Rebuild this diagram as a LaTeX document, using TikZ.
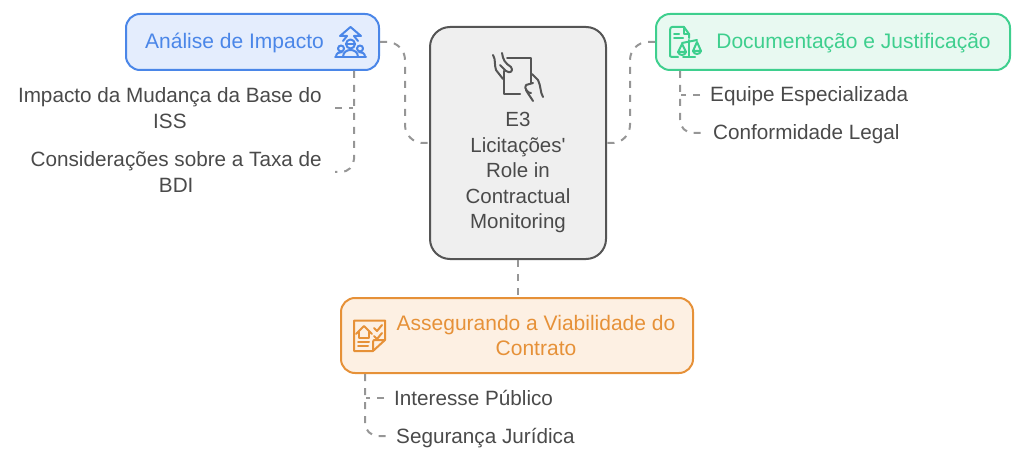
\documentclass[tikz,border=0pt]{standalone}
\usepackage{fontspec}
\usepackage{xcolor}
\newfontfamily\labelfont{Liberation Sans}
\definecolor{impactblue}{RGB}{74,134,232}
\definecolor{impactfill}{RGB}{228,237,253}
\definecolor{docgreen}{RGB}{62,207,142}
\definecolor{docfill}{RGB}{232,249,241}
\definecolor{viaorange}{RGB}{230,145,56}
\definecolor{viafill}{RGB}{253,240,227}
\definecolor{rolegray}{RGB}{85,85,85}
\definecolor{rolefill}{RGB}{239,239,239}
\definecolor{linkgray}{RGB}{150,150,150}
\definecolor{textgray}{RGB}{74,74,74}
\tikzset{
  box/.style={draw, line width=2pt, rounded corners=14pt, inner sep=0pt},
  boxtext/.style={inner sep=0pt, align=center, font=\labelfont\fontsize{21}{25.5}\selectfont},
  leaf/.style={inner ysep=0pt, inner xsep=10pt, align=center, text=textgray, font=\labelfont\fontsize{20.7}{25.5}\selectfont},
  oneline/.style={text height=19pt, text depth=5pt},
  link/.style={draw=linkgray, line width=2pt, dash pattern=on 7pt off 7pt, rounded corners=18pt},
  leaflink/.style={link, rounded corners=13pt},
  icon/.style={line width=2pt, line cap=round, line join=round}
}
\begin{document}
\begin{tikzpicture}[x=1pt,y=-1pt]
\useasboundingbox (0,0) rectangle (1024,462);

% Boxes
\node[box, draw=rolegray, fill=rolefill, minimum width=176pt, minimum height=232pt, rounded corners=20pt] (rolebox) at (518,143) {};
\node[box, draw=impactblue, fill=impactfill, minimum width=253pt, minimum height=56pt] (impactbox) at (252.5,42) {};
\node[box, draw=docgreen, fill=docfill, minimum width=354pt, minimum height=56pt] (docbox) at (833,42) {};
\node[box, draw=viaorange, fill=viafill, minimum width=352pt, minimum height=75pt] (viabox) at (517,335.5) {};

% Box texts
\node[boxtext, text=textgray, font=\labelfont\fontsize{20.5}{25.5}\selectfont] (roletext) at (518,172.5) {E3\\Licitações'\\Role in\\Contractual\\Monitoring};
\node[boxtext, oneline, text=impactblue] (impacttext) at (234.5,42) {Análise de Impacto};
\node[boxtext, oneline, text=docgreen] (doctext) at (853.5,41.5) {Documentação e Justificação};
\node[boxtext, text=viaorange] (viatext) at (536,335.5) {Assegurando a Viabilidade do\\Contrato};

% Leaves
\node[leaf, anchor=east, inner xsep=13pt] (mudanca) at (335,108) {Impacto da Mudança da Base do\\ISS};
\node[leaf, anchor=east, inner xsep=13pt] (taxa) at (335,172) {Considerações sobre a Taxa de\\BDI};
\node[leaf, oneline, anchor=west] (equipe) at (700,95) {Equipe Especializada};
\node[leaf, oneline, anchor=west] (conformidade) at (703,133) {Conformidade Legal};
\node[leaf, oneline, anchor=west] (interesse) at (384,398) {Interesse Público};
\node[leaf, oneline, anchor=west] (seguranca) at (386,436) {Segurança Jurídica};

% Links to the centre
\draw[link] (impactbox.east) -- ++(25,0) |- (rolebox.west);
\draw[link] (docbox.west) -- ++(-25,0) |- (rolebox.east);
\draw[link] (rolebox.south) -- (rolebox.south |- viabox.north);

% Links to the leaves
\draw[leaflink] ([xshift=-26pt]impactbox.south east) |- (taxa.east);
\draw[leaflink] (mudanca.east) -- (mudanca.east -| {353,0});
\draw[leaflink] ([xshift=25pt]docbox.south west) |- (conformidade.west);
\draw[leaflink] (equipe.west) -- (equipe.west -| {681,0});
\draw[leaflink] ([xshift=25pt]viabox.south west) |- (seguranca.west);
\draw[leaflink] (interesse.west) -- (interesse.west -| {366,0});

% Hands holding a sheet
\begin{scope}[icon, draw=rolegray]
\draw (507,58.5) -- (531,58.5) -- (531,83);
\draw (520,94) -- (504,94) -- (504,71);
\draw (493,55) .. controls (496,60) and (494,64) .. (496,70) -- (503,79);
\draw (502,53) .. controls (503,60) and (505,63) .. (511,67) .. controls (514,71) and (510,74) .. (506,71) -- (500,65);
\draw (532,74) -- (538,80) .. controls (541,86) and (540,92) .. (543,97);
\draw (533,83) -- (526,85) .. controls (523,88) and (529,94) .. (531,93);
\draw (526,90) .. controls (528,94) and (530,96) .. (533,101);
\end{scope}

% Arrow with people
\begin{scope}[icon, draw=impactblue]
\draw (343,41) -- (347,36) -- (340,36) -- (350.5,27) -- (361,36) -- (354,36) -- (358,41);
\draw (350.5,44) circle (4.5);
\draw (341,48.5) circle (3);
\draw (360,48.5) circle (3);
\draw (346,44) -- (355,44);
\draw (335,57) -- (366,57);
\draw (336,57) .. controls (336,53) and (339,52) .. (342,52);
\draw (365,57) .. controls (365,53) and (362,52) .. (359,52);
\draw (343,57) .. controls (343,52) and (347,50) .. (350.5,50) .. controls (354,50) and (358,52) .. (358,57);
\end{scope}

% Document with scales
\begin{scope}[icon, draw=docgreen]
\draw (678,57) -- (672,57) .. controls (670,57) and (670,56) .. (670,55) -- (670,30) .. controls (670,28) and (671,27) .. (672,27) -- (684,27) -- (689,34) -- (689,38);
\draw (684,27) -- (684,34) -- (689,34);
\draw (674,34) -- (679,34);
\draw (674,38) -- (683,38);
\draw (689,40) -- (689,56);
\draw (683,57) -- (695,57);
\draw (682,43) -- (697,40);
\draw (682,44) -- (678,52) -- (686,52) -- cycle;
\draw (697,42) -- (693,51) -- (701,51) -- cycle;
\draw (678,52) .. controls (679,56) and (685,56) .. (686,52);
\draw (693,51) .. controls (694,55) and (700,55) .. (701,51);
\end{scope}

% Contract with house and checks
\begin{scope}[icon, draw=viaorange]
\draw (373,351) -- (354,351) -- (354,320.5) -- (385,320.5) -- (385,340) -- (373,351) -- (373,342) .. controls (373,340) and (374,340) .. (375,340) -- (385,340);
\draw (356,334) -- (364,326) -- (372,334);
\draw (359,332) -- (359,338) -- (369,338) -- (369,332);
\draw (358,342) -- (369,342);
\draw (358,346) -- (368,346);
\draw (374,328) -- (377,331) -- (382,325);
\draw (374,336) -- (377,339) -- (382,333);
\end{scope}
\end{tikzpicture}
\end{document}
